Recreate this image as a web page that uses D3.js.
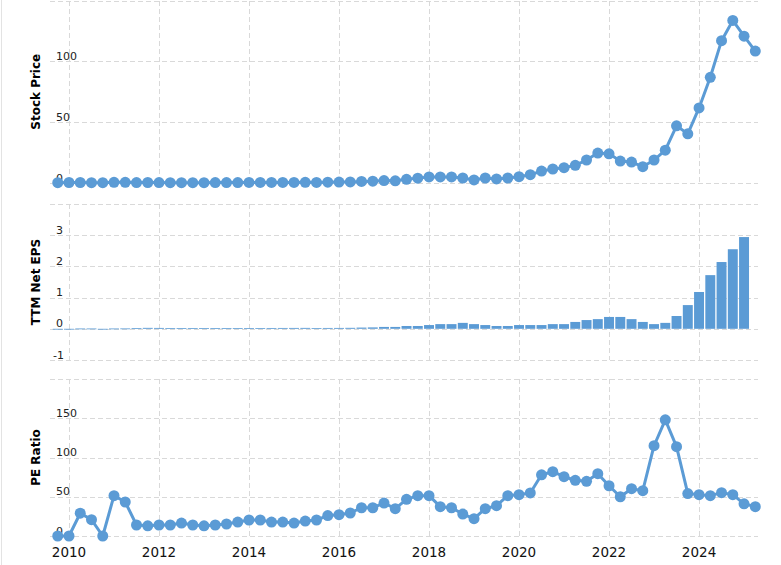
<!DOCTYPE html>
<html lang="en">
<head>
<meta charset="UTF-8">
<title>Stock Price, EPS and PE Ratio</title>
<style>
    body { margin: 0; background: #fff; }
    svg { display: block; font-family: "DejaVu Sans", Verdana, sans-serif; }
    .grid line { stroke: #d9d9d9; stroke-width: 1; stroke-dasharray: 5,3; shape-rendering: crispEdges; }
    .tick-label { font-size: 11px; fill: #222; }
    .year-label { font-size: 13.5px; fill: #111; text-anchor: middle; }
    .title { font-size: 12px; font-weight: bold; fill: #000; text-anchor: middle; }
</style>
</head>
<body>
<div id="chart"></div>
<script src="https://d3js.org/d3.v7.min.js"></script>
<script>
// quarter dates (year-month)
const quarters = [
    "2009-10",
    "2010-01", "2010-04", "2010-07", "2010-10",
    "2011-01", "2011-04", "2011-07", "2011-10",
    "2012-01", "2012-04", "2012-07", "2012-10",
    "2013-01", "2013-04", "2013-07", "2013-10",
    "2014-01", "2014-04", "2014-07", "2014-10",
    "2015-01", "2015-04", "2015-07", "2015-10",
    "2016-01", "2016-04", "2016-07", "2016-10",
    "2017-01", "2017-04", "2017-07", "2017-10",
    "2018-01", "2018-04", "2018-07", "2018-10",
    "2019-01", "2019-04", "2019-07", "2019-10",
    "2020-01", "2020-04", "2020-07", "2020-10",
    "2021-01", "2021-04", "2021-07", "2021-10",
    "2022-01", "2022-04", "2022-07", "2022-10",
    "2023-01", "2023-04", "2023-07", "2023-10",
    "2024-01", "2024-04", "2024-07", "2024-10",
    "2025-01", "2025-04"
];

const stockPrice = [
    0.3, 0.4, 0.4, 0.25, 0.3, 0.6, 0.55, 0.35, 0.4, 0.35,
    0.3, 0.3, 0.3, 0.3, 0.33, 0.35, 0.38, 0.45, 0.5, 0.45,
    0.48, 0.5, 0.55, 0.5, 0.7, 0.75, 0.9, 1.3, 1.5, 2.0,
    1.8, 3.0, 4.0, 5.0, 5.0, 5.0, 4.1, 2.5, 4.1, 3.3,
    4.1, 5.2, 6.8, 9.8, 11.5, 12.6, 14.5, 18.9, 24.6, 24.0,
    18.0, 17.2, 13.4, 18.9, 27, 47, 40.4, 61.7, 86.9, 117,
    133.6, 120.7, 108.4
];

// TTM net EPS, one value per quarter up to 2025-01
const ttmEps = [
    -0.005, -0.005, 0.01, 0.01, -0.005, 0.01, 0.012, 0.025, 0.03, 0.028,
    0.025, 0.022, 0.024, 0.025, 0.025, 0.024, 0.022, 0.022, 0.022, 0.026,
    0.027, 0.028, 0.029, 0.025, 0.027, 0.028, 0.031, 0.039, 0.045, 0.06,
    0.06, 0.09, 0.09, 0.12, 0.15, 0.15, 0.19, 0.15, 0.12, 0.09,
    0.09, 0.12, 0.12, 0.12, 0.15, 0.15, 0.22, 0.28, 0.31, 0.38,
    0.38, 0.31, 0.22, 0.15, 0.19, 0.41, 0.76, 1.18, 1.72, 2.14,
    2.55, 2.94
];

const peRatio = [
    0, 0, 29, 20.8, 0, 51.4, 43.3, 14, 13, 14,
    14, 16.5, 14, 13, 14, 15.3, 17.8, 20.4, 20.4, 17.8,
    17.8, 16.5, 19, 20.4, 26, 27.2, 29.3, 36, 36, 42,
    34.8, 46.7, 51.4, 51.4, 37.4, 36, 28, 22, 34.8, 38.6,
    51.4, 52.7, 54.8, 78, 81.9, 75.5, 71, 69.7, 79.4, 64,
    50, 60.3, 57.7, 115, 148, 113.8, 54, 52.7, 51.4, 55.2,
    52.7, 41, 37.4
];

const yearTicks = [2010, 2012, 2014, 2016, 2018, 2020, 2022, 2024];
const priceTicks = [0, 50, 100, 150];
const epsTicks = [-1, 0, 1, 2, 3, 4];
const peTicks = [0, 50, 100, 150, 200];

const width = 781, height = 565;
const color = "#5b9bd5";

const toYear = s => +s.slice(0, 4) + (+s.slice(5, 7) - 1) / 12;
const dates = quarters.map(toYear);

const x = d3.scaleLinear().domain([2009.578, 2025.31]).range([50, 758]);

const svg = d3.select("#chart").append("svg")
    .attr("width", width)
    .attr("height", height);

// light frame line on the left
svg.append("line")
    .attr("x1", 1.5).attr("x2", 1.5)
    .attr("y1", 0).attr("y2", height)
    .attr("stroke", "#e3e3e3");

const panels = [
    { title: "Stock Price", domain: [0, 150], range: [183, 0.5], ticks: priceTicks, labelled: [0, 50, 100] },
    { title: "TTM Net EPS", domain: [-1, 4], range: [360, 204], ticks: epsTicks, labelled: [-1, 0, 1, 2, 3] },
    { title: "PE Ratio", domain: [0, 200], range: [536, 379], ticks: peTicks, labelled: [0, 50, 100, 150] }
];

panels.forEach(p => {
    p.y = d3.scaleLinear().domain(p.domain).range(p.range);
    const g = svg.append("g").attr("class", "grid");
    g.selectAll(".h").data(p.ticks).enter().append("line")
        .attr("x1", 50).attr("x2", 758)
        .attr("y1", d => Math.round(p.y(d)) + 0.5)
        .attr("y2", d => Math.round(p.y(d)) + 0.5);
    g.selectAll(".v").data(yearTicks).enter().append("line")
        .attr("x1", d => Math.round(x(d)) + 0.5)
        .attr("x2", d => Math.round(x(d)) + 0.5)
        .attr("y1", p.range[1])
        .attr("y2", p.range[0]);

    svg.append("g").selectAll("text").data(p.labelled).enter().append("text")
        .attr("class", "tick-label")
        .attr("x", d => d < 0 ? 53 : 56)
        .attr("y", d => p.y(d) - 1.5)
        .text(d => d);

    const mid = (p.range[0] + p.range[1]) / 2;
    svg.append("text")
        .attr("class", "title")
        .attr("transform", `translate(40,${mid}) rotate(-90)`)
        .text(p.title);
});

// stock price line
function drawLine(values, y) {
    const pts = values.map((v, i) => [dates[i], v]);
    svg.append("path")
        .datum(pts)
        .attr("fill", "none")
        .attr("stroke", color)
        .attr("stroke-width", 3)
        .attr("stroke-linejoin", "round")
        .attr("d", d3.line().x(d => x(d[0])).y(d => y(d[1])));
    svg.append("g").selectAll("circle").data(pts).enter().append("circle")
        .attr("cx", d => x(d[0]))
        .attr("cy", d => y(d[1]))
        .attr("r", 5.5)
        .attr("fill", color);
}

drawLine(stockPrice, panels[0].y);
drawLine(peRatio, panels[2].y);

// eps bars
const yEps = panels[1].y;
const barW = x(2010.25) - x(2010) - 1.3;
svg.append("g").selectAll("rect").data(ttmEps).enter().append("rect")
    .attr("x", (d, i) => x(dates[i]) - barW / 2)
    .attr("width", barW)
    .attr("y", d => Math.min(yEps(d), yEps(0)))
    .attr("height", d => Math.max(Math.abs(yEps(d) - yEps(0)), 0.8))
    .attr("fill", color);

// year labels
svg.append("g").selectAll("text").data(yearTicks).enter().append("text")
    .attr("class", "year-label")
    .attr("x", d => x(d))
    .attr("y", 557)
    .text(d => d);
</script>
</body>
</html>
